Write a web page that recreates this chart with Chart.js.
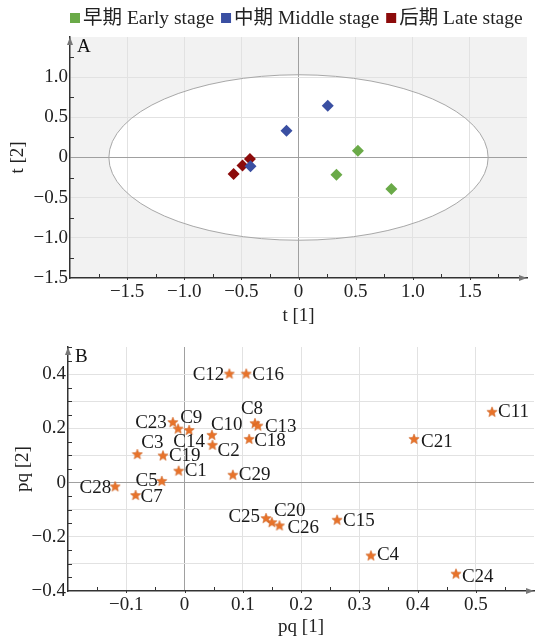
<!DOCTYPE html>
<html lang="zh">
<head>
<meta charset="UTF-8">
<title>PCA scores and loadings</title>
<script src="https://cdn.jsdelivr.net/npm/chart.js"></script>
<style>
  html, body { margin: 0; padding: 0; background: #fff; }
  #wrap { position: relative; width: 541px; height: 639px; }
  canvas { position: absolute; left: 0; }
  #scoreChart { top: 0; }
  #loadingChart { top: 330px; }
</style>
</head>
<body>
<div id="wrap">
  <canvas id="scoreChart" width="541" height="330"></canvas>
  <canvas id="loadingChart" width="541" height="309"></canvas>
</div>
<script>
// ---- Panel A: scores t[1] / t[2] ----
const stageNames = ['早期 Early stage', '中期 Middle stage', '后期 Late stage'];
const stageColors = ['#6aaa48', '#3a4fa2', '#8c0b0b'];
const earlyT1 = [0.520, 0.332, 0.813];
const earlyT2 = [0.083, -0.214, -0.392];
const middleT1 = [0.256, -0.105, -0.420];
const middleT2 = [0.644, 0.334, -0.110];
const lateT1 = [-0.568, -0.490, -0.425];
const lateT2 = [-0.206, -0.099, -0.020];
const scoreXTicks = [-1.5, -1, -0.5, 0, 0.5, 1, 1.5];
const scoreYTicks = [-1.5, -1, -0.5, 0, 0.5, 1];
const ellipseT1 = 1.66;   // Hotelling T2 ellipse half-axes
const ellipseT2 = 1.03;

// ---- Panel B: loadings pq[1] / pq[2] ----
const compounds = ['C1','C2','C3','C4','C5','C7','C8','C9','C10','C11','C12','C13','C14',
                   'C15','C16','C18','C19','C20','C21','C23','C24','C25','C26','C28','C29'];
const pq1 = [-0.010, 0.048, -0.081, 0.320, -0.039, -0.084, 0.121, 0.008, 0.047, 0.528, 0.077, 0.126, -0.011,
             0.262, 0.106, 0.111, -0.037, 0.150, 0.394, -0.020, 0.466, 0.140, 0.163, -0.119, 0.083];
const pq2 = [0.044, 0.139, 0.105, -0.269, 0.006, -0.046, 0.219, 0.194, 0.176, 0.261, 0.402, 0.210, 0.199,
             -0.137, 0.402, 0.161, 0.100, -0.146, 0.161, 0.223, -0.336, -0.131, -0.158, -0.014, 0.029];
const loadXTicks = [-0.1, 0, 0.1, 0.2, 0.3, 0.4, 0.5];
const loadYTicks = [-0.4, -0.2, 0, 0.2, 0.4];

// where each compound name sits relative to its star: [dx, dy, textAlign]
const labelPlace = [
  [6, 0, 'left'], [5, 6, 'left'], [4, -11, 'left'], [6, 0, 'left'], [-4, 0, 'right'],
  [5, 2, 'left'], [-3, -14, 'center'], [-9, -12, 'left'], [-1, -10, 'left'], [6, 0, 'left'],
  [-5, 1, 'right'], [7, 1, 'left'], [11, 13, 'center'], [6, 1, 'left'], [6, 1, 'left'],
  [5, 2, 'left'], [6, 1, 'left'], [2, -11, 'left'], [7, 3, 'left'], [-6, 1, 'right'],
  [6, 3, 'left'], [-6, -1, 'right'], [8, 3, 'left'], [-4, 2, 'right'], [6, 0, 'left']
];

const FONT = '"Liberation Serif", "Times New Roman", "Noto Sans CJK SC", serif';

function fmt(v) {
  if (Math.abs(v) < 1e-9) return '0';
  return (v < 0 ? '\u2212' : '') + Math.abs(v).toFixed(1);
}
function inList(list, v) { return list.some(t => Math.abs(t - v) < 1e-6); }
function isMult(v, step) { const r = v / step; return Math.abs(r - Math.round(r)) < 1e-6; }

// filled five point star used as point style
function makeStar(color) {
  const c = document.createElement('canvas');
  c.width = 12; c.height = 12;
  const g = c.getContext('2d');
  g.beginPath();
  for (let i = 0; i < 10; i++) {
    const r = i % 2 === 0 ? 5.4 : 2.4;
    const a = -Math.PI / 2 + i * Math.PI / 5;
    g.lineTo(6 + r * Math.cos(a), 6.4 + r * Math.sin(a));
  }
  g.closePath();
  g.fillStyle = color;
  g.fill();
  g.strokeStyle = '#c85c1c';
  g.lineWidth = 0.5;
  g.stroke();
  return c;
}

const frame = {
  id: 'frame',
  beforeDraw(chart, args, o) {
    const {ctx, chartArea: a, scales: {x, y}} = chart;
    ctx.save();
    ctx.fillStyle = o.bg;
    ctx.fillRect(a.left, a.top, a.width, a.height);
    if (o.ellipse) {
      const cx = x.getPixelForValue(0), cy = y.getPixelForValue(0);
      ctx.beginPath();
      ctx.ellipse(cx, cy, x.getPixelForValue(o.ellipse[0]) - cx, cy - y.getPixelForValue(o.ellipse[1]), 0, 0, Math.PI * 2);
      ctx.fillStyle = '#fff';
      ctx.fill();
    }
    ctx.restore();
  },
  beforeDatasetsDraw(chart, args, o) {
    if (!o.ellipse) return;
    const {ctx, scales: {x, y}} = chart;
    const cx = x.getPixelForValue(0), cy = y.getPixelForValue(0);
    ctx.save();
    ctx.beginPath();
    ctx.ellipse(cx, cy, x.getPixelForValue(o.ellipse[0]) - cx, cy - y.getPixelForValue(o.ellipse[1]), 0, 0, Math.PI * 2);
    ctx.strokeStyle = '#a8a8a8';
    ctx.lineWidth = 1;
    ctx.stroke();
    ctx.restore();
  },
  afterDraw(chart, args, o) {
    const {ctx, chartArea: a, scales: {x, y}} = chart;
    ctx.save();
    ctx.strokeStyle = '#333';
    ctx.lineWidth = 1;
    // minor ticks point into the plot
    for (let v = x.min; v <= x.max + 1e-9; v += o.xMinor) {
      if (isMult(v, o.xMajor)) continue;
      const px = Math.round(x.getPixelForValue(v)) + 0.5;
      ctx.beginPath(); ctx.moveTo(px, a.bottom); ctx.lineTo(px, a.bottom - 4); ctx.stroke();
    }
    for (let v = y.min; v <= y.max + 1e-9; v += o.yMinor) {
      if (isMult(v, o.yMajor)) continue;
      const py = Math.round(y.getPixelForValue(v)) + 0.5;
      ctx.beginPath(); ctx.moveTo(a.left, py); ctx.lineTo(a.left + 4, py); ctx.stroke();
    }
    o.xLabels.forEach(v => {
      const px = Math.round(x.getPixelForValue(v)) + 0.5;
      ctx.beginPath(); ctx.moveTo(px, a.bottom); ctx.lineTo(px, a.bottom + 2); ctx.stroke();
    });
    // arrow heads
    ctx.fillStyle = '#777';
    ctx.beginPath();
    ctx.moveTo(a.left, a.top); ctx.lineTo(a.left - 3, a.top + 8); ctx.lineTo(a.left + 3, a.top + 8);
    ctx.closePath(); ctx.fill();
    ctx.beginPath();
    ctx.moveTo(a.right, a.bottom); ctx.lineTo(a.right - 8, a.bottom - 3); ctx.lineTo(a.right - 8, a.bottom + 3);
    ctx.closePath(); ctx.fill();
    // panel letter
    ctx.fillStyle = '#111';
    ctx.font = '19px ' + FONT;
    ctx.textAlign = 'left';
    ctx.textBaseline = 'alphabetic';
    ctx.fillText(o.letter, a.left + 7, a.top + 15);
    ctx.restore();
  }
};

// legend above panel A
const stageLegend = {
  id: 'stageLegend',
  afterDraw(chart, args, o) {
    if (!o.show) return;
    const ctx = chart.ctx;
    ctx.save();
    ctx.font = '19.5px ' + FONT;
    ctx.textBaseline = 'alphabetic';
    ctx.textAlign = 'left';
    let px = chart.chartArea.left;
    chart.data.datasets.forEach(ds => {
      ctx.fillStyle = ds.backgroundColor;
      ctx.fillRect(px, 13, 10, 10);
      ctx.fillStyle = '#222';
      ctx.fillText(ds.label, px + 13, 24);
      px += 13 + ctx.measureText(ds.label).width + 7;
    });
    ctx.restore();
  }
};

// compound names next to the stars
const starLabels = {
  id: 'starLabels',
  afterDatasetsDraw(chart, args, o) {
    if (!o.names) return;
    const ctx = chart.ctx;
    const meta = chart.getDatasetMeta(0);
    ctx.save();
    ctx.font = '19px ' + FONT;
    ctx.fillStyle = '#1a1a1a';
    ctx.textBaseline = 'middle';
    meta.data.forEach((pt, i) => {
      const [dx, dy, al] = o.place[i];
      ctx.textAlign = al;
      ctx.fillText(o.names[i], pt.x + dx, pt.y + dy);
    });
    ctx.restore();
  }
};

Chart.register(frame, stageLegend, starLabels);

function axis(min, max, step, labels, title, padTitle, fit, horizontal) {
  return {
    type: 'linear',
    min: min, max: max,
    afterFit: s => { if (horizontal) s.height = fit; else s.width = fit; },
    ticks: {
      stepSize: step,
      autoSkip: false,
      maxRotation: 0,
      padding: horizontal ? 3 : 2,
      color: '#222',
      font: { family: FONT, size: 19, lineHeight: 1.2 },
      callback: v => inList(labels, v) ? fmt(v) : ''
    },
    grid: {
      drawTicks: false,
      lineWidth: 1,
      color: c => {
        const v = c.tick ? c.tick.value : 0;
        if (Math.abs(v - min) < 1e-6 || Math.abs(v - max) < 1e-6) return 'rgba(0,0,0,0)';
        return Math.abs(v) < 1e-9 ? '#a0a0a0' : '#e2e2e2';
      }
    },
    border: { display: true, color: '#333', width: 1.5 },
    title: {
      display: true, text: title, color: '#222',
      font: { family: FONT, size: 19, lineHeight: 1.2 },
      padding: padTitle
    }
  };
}

window.onload = function () {
  const toPts = (xs, ys) => xs.map((v, i) => ({ x: v, y: ys[i] }));
  const groups = [[earlyT1, earlyT2], [middleT1, middleT2], [lateT1, lateT2]];

  new Chart(document.getElementById('scoreChart'), {
    type: 'scatter',
    data: {
      datasets: groups.map((g, i) => ({
        label: stageNames[i],
        data: toPts(g[0], g[1]),
        backgroundColor: stageColors[i],
        borderColor: stageColors[i],
        borderWidth: 0,
        pointStyle: 'rectRot',
        pointRadius: 6
      }))
    },
    options: {
      responsive: false,
      animation: false,
      layout: { padding: { top: 37, right: 14, left: 0, bottom: 0 } },
      plugins: {
        legend: { display: false },
        tooltip: { enabled: false },
        frame: { bg: '#f2f2f2', ellipse: [ellipseT1, ellipseT2], letter: 'A',
                 xMinor: 0.25, xMajor: 0.5, yMinor: 0.25, yMajor: 0.5,
                 xLabels: scoreXTicks, yLabels: scoreYTicks },
        stageLegend: { show: true },
        starLabels: {}
      },
      scales: {
        x: axis(-2, 2, 0.5, scoreXTicks, 't [1]', { top: 0, bottom: 3 }, 52, true),
        y: axis(-1.5, 1.5, 0.5, scoreYTicks, 't [2]', { top: 7, bottom: 0 }, 70, false)
      }
    }
  });

  new Chart(document.getElementById('loadingChart'), {
    type: 'scatter',
    data: {
      datasets: [{
        label: 'pq',
        data: toPts(pq1, pq2),
        pointStyle: makeStar('#e8732a'),
        pointRadius: 6
      }]
    },
    options: {
      responsive: false,
      animation: false,
      layout: { padding: { top: 17, right: 2, left: 0, bottom: 0 } },
      plugins: {
        legend: { display: false },
        tooltip: { enabled: false },
        frame: { bg: '#ffffff', ellipse: null, letter: 'B',
                 xMinor: 0.05, xMajor: 0.1, yMinor: 0.05, yMajor: 0.2,
                 xLabels: loadXTicks, yLabels: loadYTicks },
        stageLegend: { show: false },
        starLabels: { names: compounds, place: labelPlace }
      },
      scales: {
        x: axis(-0.2, 0.6, 0.1, loadXTicks, 'pq [1]', { top: 0, bottom: 1 }, 48, true),
        y: axis(-0.4, 0.5, 0.1, loadYTicks, 'pq [2]', { top: 12, bottom: 0 }, 68, false)
      }
    }
  });
};
</script>
</body>
</html>
